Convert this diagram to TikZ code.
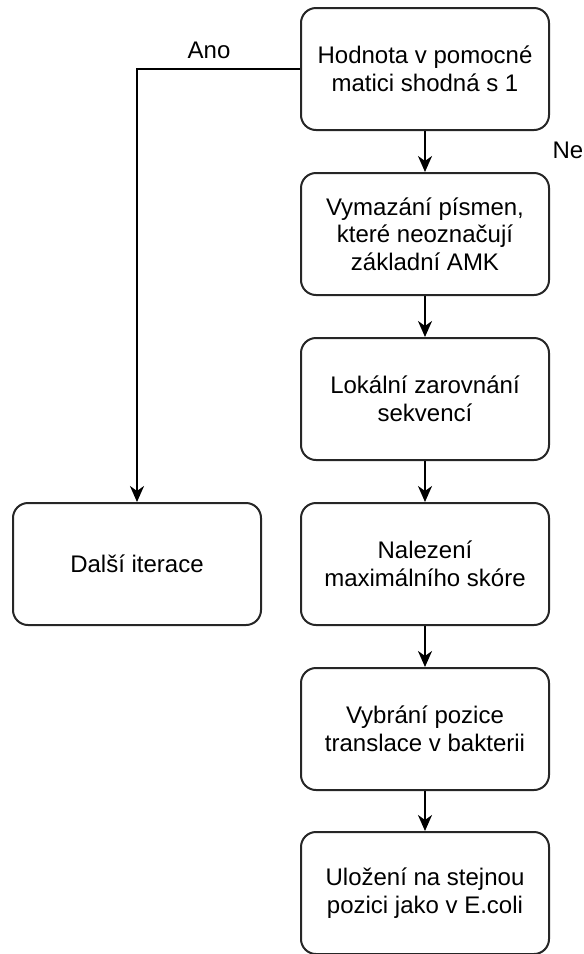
\documentclass[tikz,border=0pt]{standalone}
\usepackage{fontspec}
\setmainfont{Liberation Sans}
\usetikzlibrary{arrows.meta}
\begin{document}
\begin{tikzpicture}[x=0.5pt,y=-0.5pt,
 box/.style={draw=black!85, line width=1pt, rounded corners=7.5pt, minimum width=124pt, minimum height=61pt, align=center, font=\fontsize{12}{13.8}\selectfont, inner sep=0pt},
 lbl/.style={font=\fontsize{12}{13.8}\selectfont, inner sep=0pt},
 arr/.style={line width=1pt, draw=black, -{Stealth[length=8pt,width=7pt,inset=2.5pt]}}]
\useasboundingbox (0,0) rectangle (584,954);
\node[box] (b1) at (425,69) {Hodnota v pomocné\\matici shodná s 1};
\node[box] (b2) at (425,234) {Vymazání písmen,\\které neoznačují\\základní AMK};
\node[box] (b3) at (425,399) {Lokální zarovnání\\sekvencí};
\node[box] (b4) at (425,564) {Nalezení\\maximálního skóre};
\node[box] (b5) at (425,729) {Vybrání pozice\\translace v bakterii};
\node[box] (b6) at (425,893) {Uložení na stejnou\\pozici jako v E.coli};
\node[box] (left) at (137,564) {Další iterace};
\draw[arr] (b1) -- (b2);
\draw[arr] (b2) -- (b3);
\draw[arr] (b3) -- (b4);
\draw[arr] (b4) -- (b5);
\draw[arr] (b5) -- (b6);
\draw[arr] (b1.west) -| (left.north);
\node[lbl] (ano) at (209,50) {Ano};
\node[lbl] (ne) at (568,150) {Ne};
\end{tikzpicture}
\end{document}
